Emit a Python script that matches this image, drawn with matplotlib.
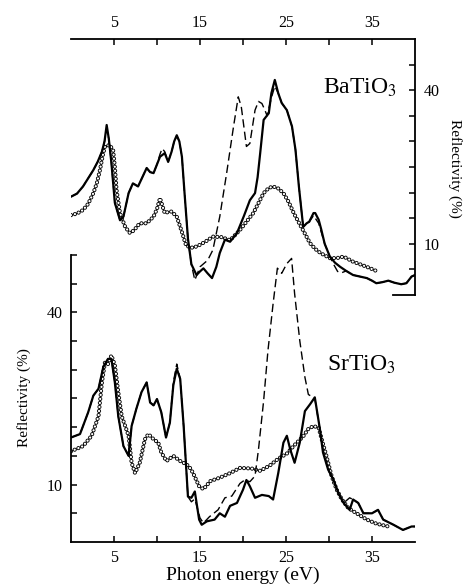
# reflectivity spectra of BaTiO3 and SrTiO3, two overlapping panels

import matplotlib
matplotlib.use('Agg')
import matplotlib.pyplot as plt

plt.rcParams['font.family'] = 'Liberation Serif'
plt.rcParams['mathtext.fontset'] = 'stix'
plt.rcParams['lines.scale_dashes'] = False

# BaTiO3 (top panel)
ba_solid_e = [0, 0.7, 1.4, 2.0, 2.6, 3.1, 3.6, 3.9, 4.15, 4.4, 4.7, 5.1, 5.7, 6.1, 6.7, 7.2, 7.8, 8.3, 8.8,
              9.2, 9.6, 10.0, 10.35, 10.9, 11.3, 11.7, 12.0, 12.3, 12.6, 12.9, 13.2, 13.6, 14.0, 14.6, 15.0,
              15.4, 15.9, 16.4, 16.9, 17.3, 17.9, 18.5, 19.3, 20.1, 20.8, 21.4, 21.7, 22.0, 22.4, 23.0, 23.3,
              23.7, 24.1, 24.5, 25.1, 25.7, 26.1, 26.5, 27.0, 27.4, 27.7, 28.2, 28.4, 28.8, 29.1, 29.5, 30.1,
              30.7, 31.3, 32.0, 32.8, 33.6, 34.4, 35.0, 35.5, 36.2, 36.9, 37.6, 38.4, 39.0, 39.6, 40]
ba_solid_r = [19.2, 19.8, 21.2, 22.8, 24.4, 26.0, 28.0, 30.0, 33.2, 30.5, 25.8, 18.0, 14.6, 15.3, 19.9, 21.8,
              21.2, 23.0, 24.8, 24.0, 23.8, 25.5, 27.0, 27.7, 26.0, 28.0, 30.0, 31.2, 30.0, 27.0, 20.0, 11.0,
              6.0, 3.9, 4.6, 5.2, 4.2, 3.3, 5.5, 8.2, 10.8, 10.4, 12.1, 15.4, 18.5, 19.9, 23.0, 27.7, 34.2,
              35.5, 39.4, 42.0, 39.4, 37.5, 36.1, 32.9, 28.4, 21.2, 13.3, 14.0, 14.3, 16.0, 16.0, 14.7, 12.8,
              10.0, 7.5, 6.3, 5.5, 4.7, 3.9, 3.6, 3.3, 2.8, 2.3, 2.5, 2.8, 2.4, 2.1, 2.3, 3.6, 3.9]

ba_dash_e = [0, 0.7, 1.4, 2.0, 2.6, 3.1, 3.6, 3.9, 4.15, 4.4, 4.7, 5.1, 5.7, 6.1, 6.7, 7.2, 7.8, 8.3, 8.8,
             9.2, 9.6, 10.0, 10.35, 10.6, 10.9, 11.3, 11.7, 12.0, 12.3, 12.6, 12.9, 13.2, 13.6, 14.0, 14.4,
             15.0, 15.9, 16.5, 17.3, 18.1, 18.9, 19.45, 19.8, 20.4, 20.8, 21.4, 21.8, 22.2, 22.55, 22.8, 23.3,
             23.7, 24.1, 24.5, 25.1, 25.7, 26.1, 26.5, 27.0, 27.4, 27.7, 28.2, 28.8, 29.5, 30.1, 30.6, 31.0,
             31.4, 32.0, 32.8, 33.6, 34.4, 35.0, 35.5, 36.2, 36.9, 37.6, 38.4, 39.0, 39.6, 40]
ba_dash_r = [19.2, 19.8, 21.2, 22.8, 24.4, 26.0, 28.0, 30.0, 32.5, 30.5, 25.8, 18.0, 14.6, 15.3, 19.9, 21.8,
             21.2, 23.0, 24.8, 24.0, 23.8, 25.5, 27.5, 28.6, 28.0, 26.0, 28.0, 30.0, 31.0, 30.0, 27.0, 20.0,
             11.0, 6.0, 2.9, 5.5, 6.8, 8.8, 15.3, 23.8, 32.9, 38.7, 36.8, 29.0, 29.6, 36.1, 37.8, 37.4, 36.1,
             35.0, 38.5, 40.8, 39.4, 37.5, 36.1, 32.9, 28.4, 21.2, 13.3, 14.0, 14.3, 15.5, 14.0, 10.0, 7.5,
             5.8, 4.6, 4.3, 4.7, 3.9, 3.6, 3.3, 2.8, 2.3, 2.5, 2.8, 2.4, 2.1, 2.3, 3.6, 3.9]

ba_circ_e = [0, 0.7, 1.4, 2.0, 2.6, 3.0, 3.37, 3.7, 3.95, 4.5, 4.9, 5.1, 5.3, 5.7, 6.3, 6.85, 7.3, 8.0, 8.8,
             9.6, 10.0, 10.35, 10.9, 11.3, 11.7, 12.3, 12.9, 13.4, 14.2, 15.0, 15.8, 16.5, 17.5, 18.5, 19.65,
             20.4, 21.2, 22.4, 23.0, 23.5, 24.1, 24.7, 25.3, 25.9, 26.6, 27.0, 27.8, 28.4, 29.0, 30.1, 30.9,
             31.7, 32.8, 33.6, 34.4, 35.5]
ba_circ_r = [15.6, 15.9, 16.6, 17.8, 19.9, 21.8, 24.4, 27.3, 29.0, 29.3, 28.3, 25.0, 20.5, 16.0, 13.3, 12.1,
             12.6, 14.0, 14.0, 15.3, 16.8, 18.9, 16.0, 16.2, 16.3, 15.3, 12.3, 9.6, 9.2, 9.8, 10.6, 11.4,
             11.3, 10.7, 12.7, 14.3, 16.0, 19.9, 20.9, 21.2, 20.8, 19.9, 18.2, 16.0, 13.8, 12.6, 10.1, 9.0,
             8.2, 7.2, 7.2, 7.5, 6.5, 6.0, 5.5, 4.7]

# SrTiO3 (bottom panel)
sr_solid_e = [0, 1.05, 2.0, 2.6, 3.2, 3.76, 4.3, 4.7, 5.1, 5.5, 6.1, 6.7, 7.05, 7.6, 8.2, 8.8, 9.2, 9.6, 10.0,
              10.5, 11.05, 11.5, 11.9, 12.3, 12.7, 13.1, 13.6, 14.0, 14.4, 14.9, 15.2, 15.8, 16.7, 17.3, 17.9,
              18.5, 19.3, 20.0, 20.4, 20.8, 21.4, 22.2, 23.0, 23.5, 24.1, 24.7, 25.1, 25.5, 26.0, 26.6, 27.2,
              27.8, 28.35, 28.95, 29.3, 29.9, 30.5, 31.1, 31.7, 32.4, 32.8, 33.4, 34.0, 35.0, 35.7, 36.3,
              37.5, 38.6, 39.6, 40]
sr_solid_r = [18.2, 18.8, 22.6, 25.5, 26.7, 30.5, 31.9, 31.9, 27.8, 21.9, 16.7, 15.0, 20.2, 23.2, 26.1, 27.8,
              24.3, 23.8, 24.9, 22.6, 18.2, 20.8, 27.3, 30.2, 28.4, 20.2, 7.9, 7.7, 8.8, 3.9, 3.0, 3.6, 3.9,
              5.0, 4.4, 6.3, 6.8, 9.1, 10.8, 9.7, 7.7, 8.2, 8.0, 7.4, 12.0, 17.3, 18.5, 16.1, 13.8, 17.3,
              22.8, 24.0, 25.2, 19.6, 15.6, 12.6, 10.9, 8.5, 6.8, 5.6, 7.4, 6.8, 5.0, 5.0, 5.6, 3.9, 3.0,
              2.1, 2.7, 2.7]

sr_dash_e = [0, 1.05, 2.0, 2.6, 3.2, 3.76, 4.3, 4.7, 5.1, 5.5, 6.1, 6.7, 7.05, 7.6, 8.2, 8.8, 9.2, 9.6, 10.0,
             10.5, 11.05, 11.5, 11.9, 12.3, 12.7, 13.1, 13.6, 14.0, 14.4, 15.0, 15.4, 16.1, 17.1, 17.9, 18.7,
             19.65, 20.2, 20.8, 21.4, 21.8, 22.4, 22.9, 23.5, 24.0, 24.5, 25.1, 25.65, 26.0, 26.6, 27.2, 27.6,
             28.35, 28.95, 29.3, 29.9, 30.5, 31.1, 31.7, 32.4, 32.8, 33.4, 34.0, 35.0, 35.7, 36.3, 37.5,
             38.6, 39.6, 40]
sr_dash_r = [18.2, 18.8, 22.6, 25.5, 26.7, 30.5, 31.9, 31.9, 27.8, 21.9, 16.7, 15.0, 20.2, 23.2, 26.1, 27.8,
             24.3, 23.8, 24.9, 22.6, 18.2, 20.8, 27.8, 31.0, 28.4, 20.2, 7.9, 7.0, 7.5, 4.2, 3.3, 4.4, 5.6,
             7.7, 8.0, 10.2, 10.8, 10.5, 11.5, 16.1, 24.6, 33.3, 41.5, 47.7, 46.8, 48.5, 49.4, 43.3, 35.1,
             28.7, 25.7, 25.0, 19.6, 16.1, 12.6, 10.9, 8.5, 6.8, 7.7, 7.4, 6.8, 5.0, 5.0, 5.6, 3.9, 3.0,
             2.1, 2.7, 2.7]

sr_circ_e = [0, 1.4, 2.4, 3.2, 3.6, 3.95, 4.3, 4.7, 5.1, 5.5, 5.9, 6.3, 6.7, 7.05, 7.45, 8.0, 8.6, 9.0, 9.6,
             10.15, 10.5, 11.1, 11.9, 12.7, 13.45, 13.8, 14.2, 14.9, 15.4, 16.2, 17.3, 18.5, 19.65, 21.0,
             22.0, 23.1, 24.1, 25.1, 26.0, 27.0, 27.6, 28.2, 28.8, 29.15, 29.7, 30.3, 30.9, 31.5, 32.25,
             33.2, 34.4, 35.5, 36.9]
sr_circ_r = [15.8, 16.7, 18.5, 21.9, 27.8, 31.3, 31.0, 32.5, 30.8, 26.1, 21.9, 20.2, 18.5, 13.8, 12.0, 13.8,
             17.9, 18.8, 17.9, 17.3, 15.6, 14.1, 15.0, 14.1, 13.5, 13.0, 12.0, 9.7, 9.2, 10.6, 11.2, 12.0,
             12.9, 12.8, 12.4, 13.3, 14.5, 15.4, 16.9, 18.4, 19.7, 20.2, 19.9, 17.9, 15.0, 11.5, 9.1, 7.4,
             5.9, 5.0, 3.9, 3.2, 2.7]

x_major = [5, 15, 25, 35]
x_minor = [10, 20, 30]
y_major = [10, 40]
y_minor = [5, 15, 20, 25, 30, 35, 45]


def ring_line(ax, x, y):
    # open circles along the curve: black round dots with smaller white dots on top
    ax.plot(x, y, color='black', lw=3.0, ls=(0, (0.01, 2.9)), dash_capstyle='round')
    ax.plot(x, y, color='white', lw=1.7, ls=(0, (0.01, 2.9)), dash_capstyle='round')


def curves(ax, se, sr, de, dr, ce, cr):
    ring_line(ax, ce, cr)
    ax.plot(de, dr, color='black', lw=1.0, ls=(0, (6, 3)))
    ax.plot(se, sr, color='black', lw=1.6)


fig = plt.figure(figsize=(4.71, 5.86), dpi=100)

# top panel
ax_top = fig.add_axes([0.1507, 0.4966, 0.7304, 0.4369])
ax_top.patch.set_alpha(0)
curves(ax_top, ba_solid_e, ba_solid_r, ba_dash_e, ba_dash_r, ba_circ_e, ba_circ_r)
ax_top.set_xlim(0, 40)
ax_top.set_ylim(0, 50)
ax_top.xaxis.tick_top()
ax_top.yaxis.tick_right()
ax_top.spines['left'].set_visible(False)
ax_top.spines['bottom'].set_visible(False)
ax_top.plot([37.4, 40], [0, 0], color='black', lw=1.3, clip_on=False)
ax_top.set_xticks(x_major)
ax_top.set_xticks(x_minor, minor=True)
ax_top.set_yticks(y_major)
ax_top.set_yticks(y_minor, minor=True)
ax_top.text(29.3, 39.4, 'BaTiO$_3$', fontsize=17)

# bottom panel
ax_bot = fig.add_axes([0.1507, 0.0751, 0.7304, 0.4898])
ax_bot.patch.set_alpha(0)
curves(ax_bot, sr_solid_e, sr_solid_r, sr_dash_e, sr_dash_r, sr_circ_e, sr_circ_r)
ax_bot.set_xlim(0, 40)
ax_bot.set_ylim(0, 50)
ax_bot.spines['top'].set_visible(False)
ax_bot.spines['right'].set_visible(False)
ax_bot.set_xticks(x_major)
ax_bot.set_xticks(x_minor, minor=True)
ax_bot.set_yticks(y_major)
ax_bot.set_yticks(y_minor + [50], minor=True)
ax_bot.text(29.8, 29.9, 'SrTiO$_3$', fontsize=17)

for ax in (ax_top, ax_bot):
    for s in ax.spines.values():
        s.set_linewidth(1.3)
    ax.tick_params(which='both', direction='in', length=4, width=1.1, labelsize=11.5, pad=6)

fig.text(455 / 471, 1 - 168 / 586, 'Reflectivity (%)', rotation=270, ha='center', va='center', fontsize=11)
fig.text(24 / 471, 1 - 398 / 586, 'Reflectivity (%)', rotation=90, ha='center', va='center', fontsize=11)
fig.text(243 / 471, 1 - 575 / 586, 'Photon energy (eV)', ha='center', va='center', fontsize=14)

fig.savefig('out.png', dpi=100)
